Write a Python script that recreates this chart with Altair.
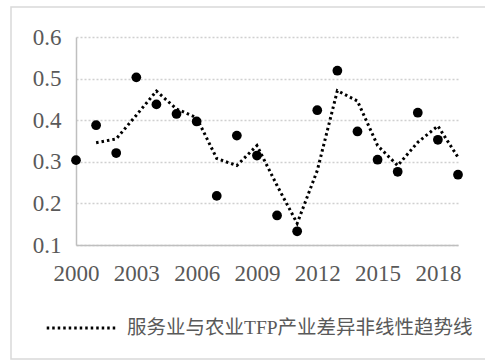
import altair as alt
import pandas as pd

years = list(range(2000, 2020))
values = [0.304, 0.388, 0.321, 0.503, 0.438, 0.415, 0.397, 0.218, 0.363, 0.315,
          0.171, 0.133, 0.424, 0.519, 0.373, 0.305, 0.276, 0.418, 0.353, 0.269]
trend_years = list(range(2001, 2020))
trend_values = [0.346, 0.355, 0.412, 0.470, 0.427, 0.406, 0.308, 0.291, 0.339, 0.243,
                0.152, 0.279, 0.471, 0.446, 0.339, 0.291, 0.347, 0.386, 0.311]
tick_years = [2000, 2003, 2006, 2009, 2012, 2015, 2018]
y_ticks = [0.1, 0.2, 0.3, 0.4, 0.5, 0.6]
series_name = "服务业与农业TFP产业差异非线性趋势线"

pts = pd.DataFrame({"year": years, "value": values})
trend = pd.DataFrame({"year": trend_years, "value": trend_values, "series": series_name})

FONT = "Liberation Serif"
LFONT = "Liberation Serif, Noto Sans CJK SC"
GRAY = "#595959"

x = alt.X("year:Q", scale=alt.Scale(domain=[2000, 2019], nice=False, zero=False),
          axis=alt.Axis(values=tick_years, format="d", title=None, grid=False, ticks=False,
                        domainColor="#bfbfbf", domainWidth=1.5, labelFont=FONT,
                        labelFontSize=23, labelColor=GRAY, labelPadding=17,
                        labelOverlap=False, labelFlush=False))
y = alt.Y("value:Q", scale=alt.Scale(domain=[0.1, 0.6], nice=False, zero=False),
          axis=alt.Axis(values=y_ticks, format=".1f", title=None, grid=True, ticks=False,
                        gridColor="#d0d0d0", gridDash=[2, 2], gridWidth=1.5,
                        domainColor="#bfbfbf", domainWidth=1.5, labelFont=FONT,
                        labelFontSize=23, labelColor=GRAY, labelPadding=15))

border = alt.Chart(pd.DataFrame({"a": [0]})).mark_rect(
    fill="white", fillOpacity=0, stroke="#d9d9d9", strokeWidth=1.5, clip=False
).encode(x=alt.value(-65), x2=alt.value(415), y=alt.value(-30), y2=alt.value(322))

points = alt.Chart(pts).mark_circle(size=95, color="black", opacity=1).encode(x=x, y=y)

line = alt.Chart(trend).mark_line(strokeWidth=3, strokeDash=[2.5, 3]).encode(
    x=x, y=y,
    color=alt.Color("series:N", scale=alt.Scale(range=["black"]),
                    legend=alt.Legend(title=None, orient="none", legendX=-31, legendY=255,
                                      symbolType="stroke", symbolSize=4700,
                                      symbolStrokeWidth=3, symbolDash=[2.5, 3],
                                      symbolStrokeColor="black",
                                      labelFont=LFONT, labelFontSize=19.5, labelColor=GRAY,
                                      labelLimit=500, labelOffset=10, padding=0))
)

chart = alt.layer(border, line, points).properties(
    width=382, height=208,
    autosize=alt.AutoSizeParams(type="none"),
    padding={"left": 76, "top": 37, "right": 27, "bottom": 115},
    background="white",
).configure_view(stroke=None)

chart.save("out.html", embed_options={"renderer": "svg", "actions": False})
